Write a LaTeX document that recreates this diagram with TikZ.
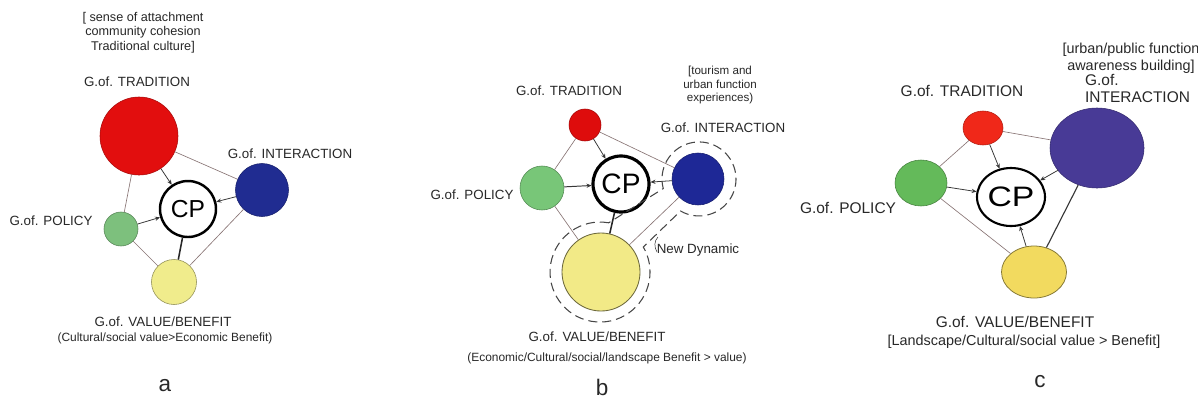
\documentclass[tikz,border=0pt]{standalone}
\usepackage{fontspec}
\usepackage{graphicx}
\setmainfont{Liberation Sans}
\usetikzlibrary{arrows.meta,shapes.geometric}

\definecolor{ink}{RGB}{40,40,40}
\definecolor{linkc}{RGB}{135,115,115}
\definecolor{feedc}{RGB}{55,55,55}
\definecolor{hullc}{RGB}{70,70,70}
\definecolor{redA}{RGB}{226,14,14}
\definecolor{redB}{RGB}{222,12,12}
\definecolor{redC}{RGB}{240,40,25}
\definecolor{blueA}{RGB}{32,44,145}
\definecolor{blueB}{RGB}{30,40,150}
\definecolor{blueC}{RGB}{72,58,150}
\definecolor{greenA}{RGB}{125,192,125}
\definecolor{greenB}{RGB}{120,198,120}
\definecolor{greenC}{RGB}{100,186,90}
\definecolor{yellowA}{RGB}{240,236,140}
\definecolor{yellowB}{RGB}{242,234,135}
\definecolor{yellowC}{RGB}{242,218,95}

\begin{document}
\begin{tikzpicture}[x=0.5mm,y=0.5mm,
  txt/.style={inner sep=0pt, text=ink},
  lbl/.style={txt, font=\fontsize{19}{22}\selectfont},
  lblc/.style={txt, font=\fontsize{22}{24}\selectfont},
  sub/.style={txt, font=\fontsize{17}{20}\selectfont},
  tag/.style={txt, font=\fontsize{32}{36}\selectfont},
  ball/.style={circle, inner sep=0pt, line width=0.8pt},
  oval/.style={ellipse, inner sep=0pt, line width=0.8pt},
  cpc/.style={draw=black, fill=white, inner sep=0pt, text=black},
  link/.style={linkc, line width=0.9pt},
  feed/.style={feedc, line width=1.1pt, -{Stealth[length=7pt,width=6pt]}},
  tie/.style={black!85, line width=2.2pt},
  hull/.style={hullc, line width=1.5pt, dash pattern=on 4.5mm off 2.5mm}]

\fill[white] (0,0) rectangle (1198,-403);
\useasboundingbox (0,0) rectangle (1198,-403);

% ---------------- panel a ----------------
\node[ball, fill=redA, draw=redA!75!black, minimum size=39mm] (aT) at (139,-136) {};
\node[ball, fill=blueA, draw=blueA!75!black, minimum size=26.5mm] (aI) at (262,-190) {};
\node[ball, fill=greenA, draw=greenA!70!black, minimum size=17mm] (aP) at (121,-229) {};
\node[ball, fill=yellowA, draw=yellowA!60!black, minimum size=22.5mm] (aV) at (174,-282) {};
\node[cpc, circle, line width=3.5pt, minimum size=28mm, font=\fontsize{35}{40}\selectfont] (aC) at (188,-209) {CP};

\node[txt, align=center, font=\fontsize{18}{20.6}\selectfont] (aTn) at (143,-32.5)
  {[ sense of attachment\\community cohesion\\Traditional culture]};
\node[lbl] (aTl) at (137,-82) {G.of. TRADITION};
\node[lbl] (aIl) at (290,-154) {G.of. INTERACTION};
\node[lbl] (aPl) at (51,-221) {G.of. POLICY};
\node[lbl] (aVl) at (163,-322) {G.of. VALUE/BENEFIT};
\node[sub] (aVn) at (165,-338) {(Cultural/social value>Economic Benefit)};
\node[tag] (aTag) at (165,-386) {a};

\draw[link] (aT) -- (aI);
\draw[link] (aT) -- (aP);
\draw[link] (aP) -- (aV);
\draw[link] (aI) -- (aV);
\draw[feed] (aT) -- (aC);
\draw[feed] (aP) -- (aC);
\draw[feed] (aI) -- (aC);
\draw[tie] (aC) -- (aV);

% ---------------- panel b ----------------
\node[ball, fill=redB, draw=redB!75!black, minimum size=16mm] (bT) at (585,-125) {};
\node[ball, fill=blueB, draw=blueB!75!black, minimum size=26mm] (bI) at (698,-179) {};
\node[ball, fill=greenB, draw=greenB!70!black, minimum size=22mm] (bP) at (542,-188) {};
\node[ball, fill=yellowB, draw=yellowB!45!black, line width=1.2pt, minimum size=39mm] (bV) at (601,-272) {};
\node[cpc, circle, line width=4.5pt, minimum size=28mm, font=\fontsize{40}{44}\selectfont] (bC) at (621,-184) {CP};

\node[txt, align=center, font=\fontsize{16.5}{18.5}\selectfont] (bIn) at (720,-85)
  {[tourism and\\urban function\\experiences)};
\node[lbl] (bTl) at (569,-91) {G.of. TRADITION};
\node[lbl] (bIl) at (723,-128) {G.of. INTERACTION};
\node[lbl] (bPl) at (472,-195) {G.of. POLICY};
\node[lbl] (bNl) at (698,-250) {New Dynamic};
\node[lbl] (bVl) at (597,-337) {G.of. VALUE/BENEFIT};
\node[sub] (bVn) at (607,-358) {(Economic/Cultural/social/landscape Benefit > value)};
\node[tag] (bTag) at (602,-387) {b};

\draw[link] (bT) -- (bI);
\draw[link] (bT) -- (bP);
\draw[link] (bP) -- (bV);
\draw[link] (bI) -- (bV);
\draw[feed] (bT) -- (bC);
\draw[feed, line width=1.4pt] (bP) -- (bC);
\draw[feed] (bI) -- (bC);
\draw[tie] (bC) -- (bV);

% dashed outline joining value/benefit and interaction
\draw[hull] (608.7,-222.8) arc[start angle=80, end angle=390, radius=25mm]
  -- (680.5,-211) arc[start angle=-120, end angle=195, radius=18.5mm] -- cycle;
% small bracket stroke in front of the outline label
\draw[ink, line width=0.7pt] (658,-237) .. controls (654,-241) and (654,-247) .. (657,-252);

% ---------------- panel c ----------------
\node[oval, fill=redC, draw=redC!75!black, minimum width=20mm, minimum height=17mm] (cT) at (983,-128) {};
\node[oval, fill=blueC, draw=blueC!75!black, minimum width=47mm, minimum height=40mm] (cI) at (1097,-148) {};
\node[oval, fill=greenC, draw=greenC!70!black, minimum width=26mm, minimum height=23mm] (cP) at (921,-183) {};
\node[oval, fill=yellowC, draw=yellowC!55!black, line width=1.1pt, minimum width=32.5mm, minimum height=26mm] (cV) at (1034,-272) {};
\node[cpc, ellipse, line width=3pt, minimum width=34mm, minimum height=29mm, font=\fontsize{40}{44}\selectfont] (cC) at (1011,-197) {\scalebox{1.2}[1]{CP}};

\node[txt, align=center, font=\fontsize{20.5}{24}\selectfont] (cIn) at (1131,-58.5)
  {[urban/public function\\awareness building]};
\node[lblc, anchor=west, align=left] (cIl) at (1085,-88.5) {G.of.\\INTERACTION};
\node[lblc] (cTl) at (962,-91) {G.of. TRADITION};
\node[lblc] (cPl) at (848,-208) {G.of. POLICY};
\node[lblc] (cVl) at (1015,-322) {G.of. VALUE/BENEFIT};
\node[txt, font=\fontsize{20.5}{24}\selectfont] (cVn) at (1024,-342) {[Landscape/Cultural/social value > Benefit]};
\node[tag] (cTag) at (1040,-382) {c};

\draw[link] (cT) -- (cI);
\draw[link] (cT) -- (cP);
\draw[link] (cP) -- (cV);
\draw[feedc, line width=1.6pt] (cI) -- (cV);
\draw[feed] (cT) -- (cC);
\draw[feed] (cP) -- (cC);
\draw[feed] (cI) -- (cC);
\draw[feed] (cV) -- (cC);
\end{tikzpicture}
\end{document}
